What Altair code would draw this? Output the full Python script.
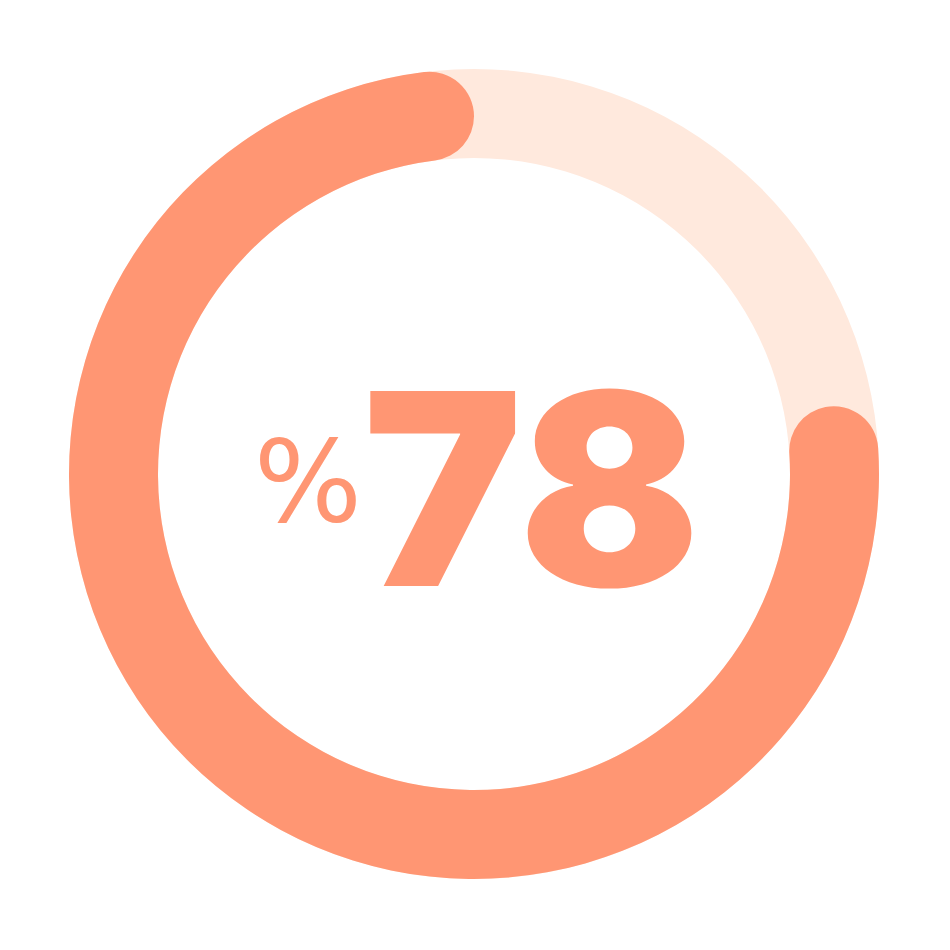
import altair as alt
import pandas as pd

# data
labels = ["progress"]
values = [78]
total = 100

df = pd.DataFrame({"label": labels, "value": values})
df["start"] = total - df["value"]
df["end"] = total
df["text"] = df["value"].astype(str)

bg_df = pd.DataFrame({"start": [0], "end": [total]})

DARK = "#FF9673"
LIGHT = "#FFE9DD"
OUTER = 405
INNER = 316

theta_scale = alt.Scale(domain=[0, total], range=[0, 6.283185307179586])

bg = alt.Chart(bg_df).mark_arc(
    outerRadius=OUTER, innerRadius=INNER, color=LIGHT
).encode(
    theta=alt.Theta("start:Q", scale=theta_scale),
    theta2="end:Q",
)

fg = alt.Chart(df).mark_arc(
    outerRadius=OUTER, innerRadius=INNER, color=DARK, cornerRadius=44.5
).encode(
    theta=alt.Theta("start:Q", scale=theta_scale),
    theta2="end:Q",
)

num = alt.Chart(df).mark_text(
    font="Inter", fontWeight=900, fontSize=268, color=DARK,
    align="left", baseline="alphabetic"
).encode(
    text="text:N",
    x=alt.value(355),
    y=alt.value(578),
)

pct = alt.Chart(df).mark_text(
    font="DejaVu Sans", fontWeight=400, fontSize=114, color=DARK,
    align="right", baseline="alphabetic"
).encode(
    text=alt.value("%"),
    x=alt.value(354),
    y=alt.value(513),
)

chart = alt.layer(bg, fg, num, pct).properties(
    width=932, height=932, padding=0, autosize="none"
).configure_view(stroke=None)

chart.save("out.html", embed_options={"renderer": "svg", "actions": False})
